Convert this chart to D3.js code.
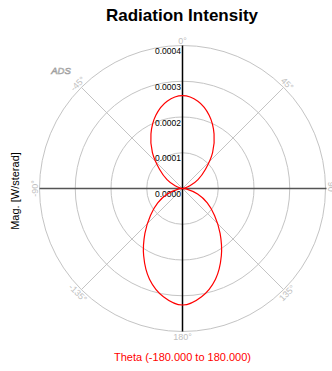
<!DOCTYPE html>
<html>
<head>
<meta charset="utf-8">
<script src="https://cdn.jsdelivr.net/npm/d3@7"></script>
<style>
  html, body { margin: 0; padding: 0; background: #fff; }
  svg { display: block; font-family: "Liberation Sans", Arial, sans-serif; }
</style>
</head>
<body>
<svg id="chart" width="332" height="371"></svg>
<script>
// Theta in degrees (0 at top, clockwise positive)
const theta = [-180, -170, -160, -150, -140, -130, -120, -110, -100, -90,
               -80, -70, -60, -50, -40, -30, -20, -10, 0,
               10, 20, 30, 40, 50, 60, 70, 80, 90,
               100, 110, 120, 130, 140, 150, 160, 170, 180];
// Radiation intensity magnitude, W/sterad
const magnitude = [3.259e-4, 3.074e-4, 2.699e-4, 2.173e-4, 1.636e-4, 1.17e-4, 0.80e-4, 0.45e-4, 0.14e-4, 0,
                   0.06e-4, 0.22e-4, 0.50e-4, 0.84e-4, 1.309e-4, 1.765e-4, 2.179e-4, 2.478e-4, 2.596e-4,
                   2.478e-4, 2.179e-4, 1.765e-4, 1.309e-4, 0.84e-4, 0.50e-4, 0.22e-4, 0.06e-4, 0,
                   0.14e-4, 0.45e-4, 0.80e-4, 1.17e-4, 1.636e-4, 2.173e-4, 2.699e-4, 3.074e-4, 3.259e-4];
// Radial ring ticks and their labels
const ringTicks = [0, 0.0001, 0.0002, 0.0003, 0.0004];
const ringLabels = ["0.0000", "0.0001", "0.0002", "0.0003", "0.0004"];
// Angular ticks and labels
const angleTicks = [0, 45, 90, 135, 180, -135, -90, -45];
const angleLabels = ["0°", "45°", "90°", "135°", "180°", "-135°", "-90°", "-45°"];

const svg = d3.select("#chart");
const cx = 182.5, cy = 188.5, R = 143;
const r = d3.scaleLinear().domain([0, 0.0004]).range([0, R]);
const toRad = d => d * Math.PI / 180;

const g = svg.append("g").attr("transform", `translate(${cx},${cy})`);

// grid rings
g.selectAll("circle.ring").data(ringTicks.slice(1)).enter().append("circle")
  .attr("class", "ring").attr("r", d => r(d))
  .attr("fill", "none").attr("stroke", "#c4c4c4").attr("stroke-width", 1);

// diagonal spokes
g.selectAll("line.spoke").data([45, 135, -135, -45]).enter().append("line")
  .attr("x1", 0).attr("y1", 0)
  .attr("x2", d => R * Math.sin(toRad(d)))
  .attr("y2", d => -R * Math.cos(toRad(d)))
  .attr("stroke", "#c4c4c4").attr("stroke-width", 1);

// horizontal axis
g.append("line").attr("x1", -R).attr("x2", R + 1).attr("y1", 0).attr("y2", 0)
  .attr("stroke", "#555").attr("stroke-width", 1.5);
// vertical axis
g.append("line").attr("x1", 0).attr("x2", 0).attr("y1", -R).attr("y2", R)
  .attr("stroke", "#000").attr("stroke-width", 1.5);

// radial labels
g.selectAll("text.rl").data(ringTicks).enter().append("text")
  .attr("x", -1.5).attr("y", d => -r(d) + 8.5)
  .attr("text-anchor", "end").attr("font-size", "8.5px").attr("fill", "#000")
  .text((d, i) => ringLabels[i]);

// angular labels
const LR = 148;
g.selectAll("text.al").data(angleTicks).enter().append("text")
  .attr("transform", d => {
    const x = LR * Math.sin(toRad(d)), y = -LR * Math.cos(toRad(d));
    let rot = d;
    if (Math.abs(d) > 90) rot = d > 0 ? d - 180 : d + 180;
    if (Math.abs(d) === 180) rot = 0;
    return `translate(${x},${y}) rotate(${rot})`;
  })
  .attr("text-anchor", "middle").attr("dominant-baseline", "central")
  .attr("font-size", "9px").attr("fill", "#c0c0c0")
  .text((d, i) => angleLabels[i]);

// pattern
const pts = theta.slice(0, -1).map((t, i) => [toRad(t), r(magnitude[i])]);
const line = d3.lineRadial().angle(d => d[0]).radius(d => d[1]).curve(d3.curveCatmullRomClosed.alpha(0.5));
g.append("path").attr("d", line(pts))
  .attr("fill", "none").attr("stroke", "#ff0000").attr("stroke-width", 1.2);

// title
svg.append("text").attr("x", 182).attr("y", 20.5).attr("text-anchor", "middle")
  .attr("font-size", "17px").attr("font-weight", "bold").attr("fill", "#000")
  .text("Radiation Intensity");

// axis titles
svg.append("text").attr("transform", "translate(19,191) rotate(-90)")
  .attr("text-anchor", "middle").attr("font-size", "11px").attr("fill", "#000")
  .text("Mag. [W/sterad]");
svg.append("text").attr("x", 182.5).attr("y", 361).attr("text-anchor", "middle")
  .attr("font-size", "11px").attr("fill", "#ff0000")
  .text("Theta (-180.000 to 180.000)");

// logo mark
svg.append("text").attr("x", 61).attr("y", 74).attr("text-anchor", "middle")
  .attr("font-size", "9.5px").attr("font-style", "italic").attr("fill", "#eeeeee")
  .attr("stroke", "#a0a0a0").attr("stroke-width", 0.6)
  .text("ADS");
</script>
</body>
</html>
